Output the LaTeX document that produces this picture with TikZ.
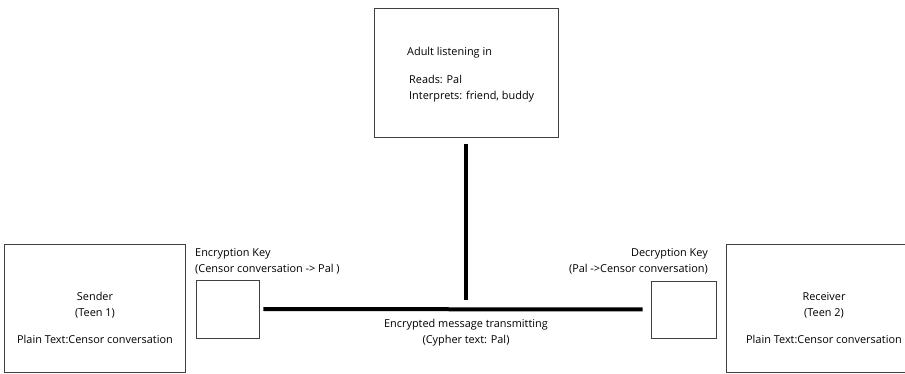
\documentclass[tikz,border=0pt]{standalone}
\usepackage{fontspec}
\setmainfont{Open Sans}
\usetikzlibrary{positioning}

\begin{document}
\begin{tikzpicture}[x=1pt, y=-1pt,
  box/.style={draw=black!75, line width=0.8pt, inner sep=0pt},
  keybox/.style={draw=black!75, line width=0.8pt, inner sep=0pt},
  txt/.style={inner sep=0pt, font=\fontsize{10.9}{16}\selectfont},
  wire/.style={line width=4pt}]
  \useasboundingbox (0,0) rectangle (905,373);

  % the three parties
  \node[box, minimum width=184pt, minimum height=129pt] (adult) at (466,72.5) {};
  \node[box, minimum width=181pt, minimum height=128pt] (sender) at (94.5,308) {};
  \node[box, minimum width=196pt, minimum height=128pt] (receiver) at (824,308) {};

  % key boxes
  \node[keybox, minimum width=63pt, minimum height=58pt] (enckey) at (227.5,309) {};
  \node[keybox, minimum width=65pt, minimum height=57pt] (deckey) at (683.5,309.5) {};

  % texts (base = last line)
  \node[txt, align=left, anchor=base west] (adultTxt) at (407,99)
    {Adult listening in\\[12pt]\hspace{2pt}Reads: Pal\\\hspace{2pt}Interprets: friend, buddy};
  \node[txt, align=center, anchor=base] (senderTxt) at (95,343)
    {Sender\\(Teen 1)\\[11pt]Plain Text:Censor conversation};
  \node[txt, align=center, anchor=base] (receiverTxt) at (824,343)
    {Receiver\\(Teen 2)\\[11pt]Plain Text:Censor conversation};
  \node[txt, align=left, anchor=base west] (encTxt) at (195,272)
    {Encryption Key\\(Censor conversation -> Pal )};
  \node[txt, align=right, anchor=base east] (decTxt) at (708,272)
    {Decryption Key\\(Pal ->Censor conversation)};
  \node[txt, align=center, anchor=base] (channelTxt) at (466,343)
    {Encrypted message transmitting\\(Cypher text: Pal)};

  % channel and tap
  \draw[wire, shorten <=4pt, shorten >=8pt] (enckey) -- (deckey);
  \coordinate (tap) at (466,309);
  \draw[wire, shorten <=7pt, shorten >=9pt] (adult.south) -- (tap);
\end{tikzpicture}
\end{document}
